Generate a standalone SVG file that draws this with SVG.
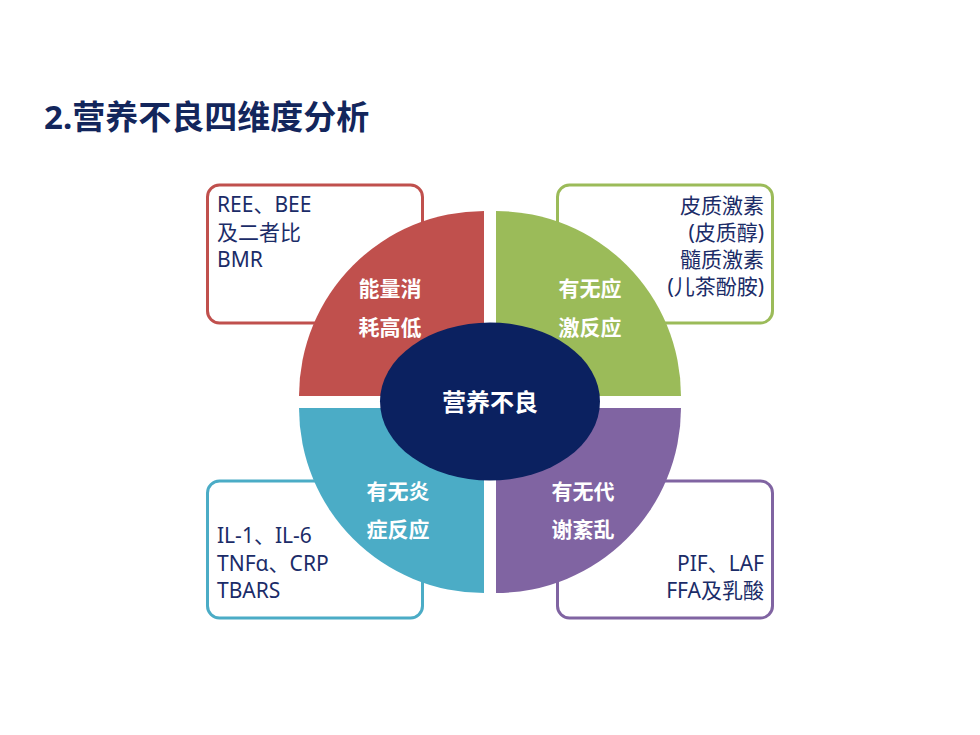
<svg xmlns="http://www.w3.org/2000/svg" width="980" height="735" viewBox="0 0 980 735">
<style>
.title{font-family:"Noto Sans","Noto Sans CJK SC",sans-serif;font-weight:bold;font-size:33px;fill:#13265c}
.box{fill:#ffffff;stroke-width:3}
.info{font-family:"Noto Sans","Noto Sans CJK SC",sans-serif;font-size:21px;fill:#1b2c68}
.lab{font-family:"Noto Sans CJK SC",sans-serif;font-weight:bold;font-size:21px;fill:#ffffff;text-anchor:middle}
.center{font-family:"Noto Sans CJK SC",sans-serif;font-weight:bold;font-size:24px;fill:#ffffff;text-anchor:middle}
.r{text-anchor:end}
</style>
<rect width="980" height="735" fill="#ffffff"/>
<text class="title" x="44" y="129">2.营养不良四维度分析</text>
<g id="connectors"/>
<g id="box-energy">
<rect class="box" x="207.5" y="185" width="215" height="138" rx="12" stroke="#c0504d"/>
</g>
<g id="box-stress">
<rect class="box" x="557.5" y="185" width="215" height="138" rx="12" stroke="#9bbb59"/>
</g>
<g id="box-inflammation">
<rect class="box" x="207.5" y="481" width="215" height="137" rx="12" stroke="#4bacc6"/>
</g>
<g id="box-metabolism">
<rect class="box" x="557.5" y="481" width="215" height="137" rx="12" stroke="#8064a2"/>
</g>
<g id="q-energy">
<path d="M484,396 L299,396 A185,185 0 0 1 484,211 Z" fill="#c0504d"/>
<text class="lab" x="390" y="296">能量消</text>
<text class="lab" x="390" y="335">耗高低</text>
</g>
<g id="q-stress">
<path d="M496,396 L496,211 A185,185 0 0 1 681,396 Z" fill="#9bbb59"/>
<text class="lab" x="590" y="296">有无应</text>
<text class="lab" x="590" y="335">激反应</text>
</g>
<g id="q-inflammation">
<path d="M484,408 L484,593 A185,185 0 0 1 299,408 Z" fill="#4bacc6"/>
<text class="lab" x="398" y="499">有无炎</text>
<text class="lab" x="398" y="537">症反应</text>
</g>
<g id="q-metabolism">
<path d="M496,408 L681,408 A185,185 0 0 1 496,593 Z" fill="#8064a2"/>
<text class="lab" x="583" y="499">有无代</text>
<text class="lab" x="583" y="537">谢紊乱</text>
</g>
<g id="center-node">
<ellipse cx="490" cy="401.5" rx="110" ry="79" fill="#0b2160"/>
<text class="center" x="490" y="411">营养不良</text>
</g>
<g id="text-energy">
<text class="info" x="217" y="212">REE、BEE</text>
<text class="info" x="217" y="240">及二者比</text>
<text class="info" x="217" y="267">BMR</text>
</g>
<g id="text-stress">
<text class="info r" x="764" y="213">皮质激素</text>
<text class="info r" x="764" y="240">(皮质醇)</text>
<text class="info r" x="764" y="267">髓质激素</text>
<text class="info r" x="764" y="294">(儿茶酚胺)</text>
</g>
<g id="text-inflammation">
<text class="info" x="217" y="543">IL-1、IL-6</text>
<text class="info" x="217" y="571">TNFα、CRP</text>
<text class="info" x="217" y="598">TBARS</text>
</g>
<g id="text-metabolism">
<text class="info r" x="764" y="571">PIF、LAF</text>
<text class="info r" x="764" y="598">FFA及乳酸</text>
</g>
</svg>
